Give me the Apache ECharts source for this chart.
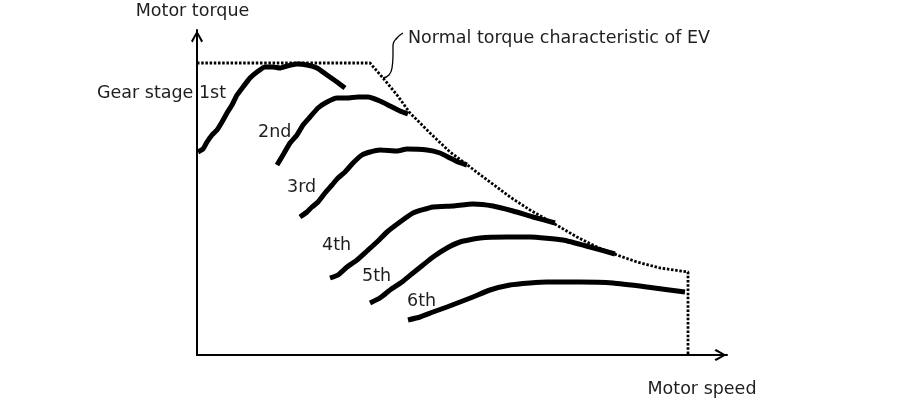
<!DOCTYPE html>
<html>
<head>
<meta charset="utf-8">
<script src="https://cdn.jsdelivr.net/npm/echarts@6/dist/echarts.min.js"></script>
<style>
  html, body { margin: 0; padding: 0; background: #fff; }
  #chart { width: 900px; height: 400px; }
</style>
</head>
<body>
<div id="chart"></div>
<script>
// Schematic units: motor speed (x) and motor torque (y), arbitrary units
const axisTitles = { x: 'Motor speed', y: 'Motor torque' };
const envelopeName = 'Normal torque characteristic of EV';
const gearNames = ['Gear stage 1st', '2nd', '3rd', '4th', '5th', '6th'];

// Normal torque characteristic of EV (dotted envelope)
const envelope = [
  [0, 292], [173, 292], [186, 277], [200, 260], [213, 242], [233, 222],
  [253, 203], [273, 188], [293, 173], [313, 158], [333, 145], [356, 132],
  [380, 118], [400, 108], [420, 100], [440, 93], [463, 87], [491, 83], [491, 0]
];

// Leader line from the envelope label to the envelope
const leader = [[206, 322], [200, 317], [196, 310], [196, 300], [195, 287], [192, 280], [186, 277]];

// Torque curves per gear stage
const gear1 = [
  [1, 203], [6, 206], [10, 213], [15, 220], [20, 225], [25, 233], [30, 242],
  [35, 250], [40, 260], [46, 268], [53, 277], [60, 283], [68, 288], [76, 288],
  [83, 287], [90, 289], [100, 291], [110, 290], [120, 287], [130, 280], [140, 273], [148, 267]
];
const gear2 = [
  [80, 190], [86, 200], [93, 212], [100, 220], [106, 230], [113, 238], [121, 247],
  [130, 253], [140, 257], [150, 257], [161, 258], [171, 258], [183, 254],
  [193, 249], [203, 244], [211, 241]
];
const gear3 = [
  [103, 138], [110, 143], [115, 148], [121, 153], [128, 162], [135, 170], [141, 177],
  [148, 183], [156, 192], [165, 200], [173, 203], [183, 205], [200, 204], [210, 206],
  [230, 205], [243, 202], [253, 197], [261, 193], [270, 190]
];
const gear4 = [
  [133, 77], [141, 80], [150, 88], [160, 95], [170, 104], [180, 113], [190, 123],
  [203, 133], [216, 142], [236, 148], [256, 149], [276, 151], [296, 149], [316, 144],
  [336, 138], [358, 132]
];
const gear5 = [
  [173, 52], [183, 57], [193, 65], [205, 73], [216, 82], [226, 90], [236, 98],
  [250, 107], [263, 113], [283, 117], [310, 118], [333, 118], [366, 115],
  [393, 108], [418, 101]
];
const gear6 = [
  [211, 35], [223, 38], [236, 43], [250, 48], [263, 53], [276, 58], [293, 65],
  [313, 70], [333, 72], [350, 73], [383, 73], [416, 72], [450, 68], [488, 63]
];
const gears = [gear1, gear2, gear3, gear4, gear5, gear6];

// Label anchor pixels (layout only)
const gearLabelPos = [[97, 93], [258, 132], [287, 187], [322, 245], [362, 276], [407, 301]];

const FONT = 'DejaVu Sans, Verdana, sans-serif';
const FS = 17.5;
const TEXT = '#1e1e1e';
const chevron = 'path://M50,0 L100,88 L86,100 L50,30 L14,100 L0,88 Z';

const chart = echarts.init(document.getElementById('chart'), null, { renderer: 'canvas' });

const axisCommon = {
  type: 'value',
  splitLine: { show: false },
  axisTick: { show: false },
  axisLabel: { show: false },
  axisLine: {
    show: true,
    onZero: false,
    symbol: ['none', chevron],
    symbolSize: [12, 13],
    symbolOffset: [0, -6.5],
    lineStyle: { color: '#000', width: 2 }
  }
};

const series = [
  {
    type: 'line', name: envelopeName, data: envelope, symbol: 'none',
    lineStyle: { color: '#000', width: 2.8, type: [2.5, 1.7] }, z: 2, silent: true
  },
  {
    type: 'line', name: 'leader', data: leader, symbol: 'none', smooth: 0.5,
    lineStyle: { color: '#000', width: 1.3 }, z: 2, silent: true
  }
];
gears.forEach(function (g, i) {
  series.push({
    type: 'line', name: gearNames[i], data: g, symbol: 'none', smooth: 0.15,
    lineStyle: { color: '#000', width: 5, join: 'round' }, z: 3, silent: true
  });
});

const textStyle = function (t) {
  return { text: t, fontSize: FS, fontFamily: FONT, fill: TEXT, align: 'left', verticalAlign: 'middle' };
};
const graphics = gearNames.map(function (n, i) {
  return { type: 'text', x: gearLabelPos[i][0], y: gearLabelPos[i][1], style: textStyle(n) };
});
graphics.push({ type: 'text', x: 408, y: 38, style: textStyle(envelopeName) });
graphics.push({ type: 'text', x: 702, y: 389, style: Object.assign(textStyle(axisTitles.x), { align: 'center' }) });

chart.setOption({
  backgroundColor: '#fff',
  animation: false,
  grid: { left: 197, right: 173, top: 30, bottom: 45, containLabel: false },
  xAxis: Object.assign({}, axisCommon, { min: 0, max: 530 }),
  yAxis: Object.assign({}, axisCommon, {
    min: 0, max: 325,
    name: axisTitles.y, nameLocation: 'end', nameGap: 19,
    nameTextStyle: { fontSize: FS, fontFamily: FONT, color: TEXT, align: 'center', verticalAlign: 'middle', padding: [0, 9, 0, 0] }
  }),
  series: series,
  graphic: graphics
});
</script>
</body>
</html>
